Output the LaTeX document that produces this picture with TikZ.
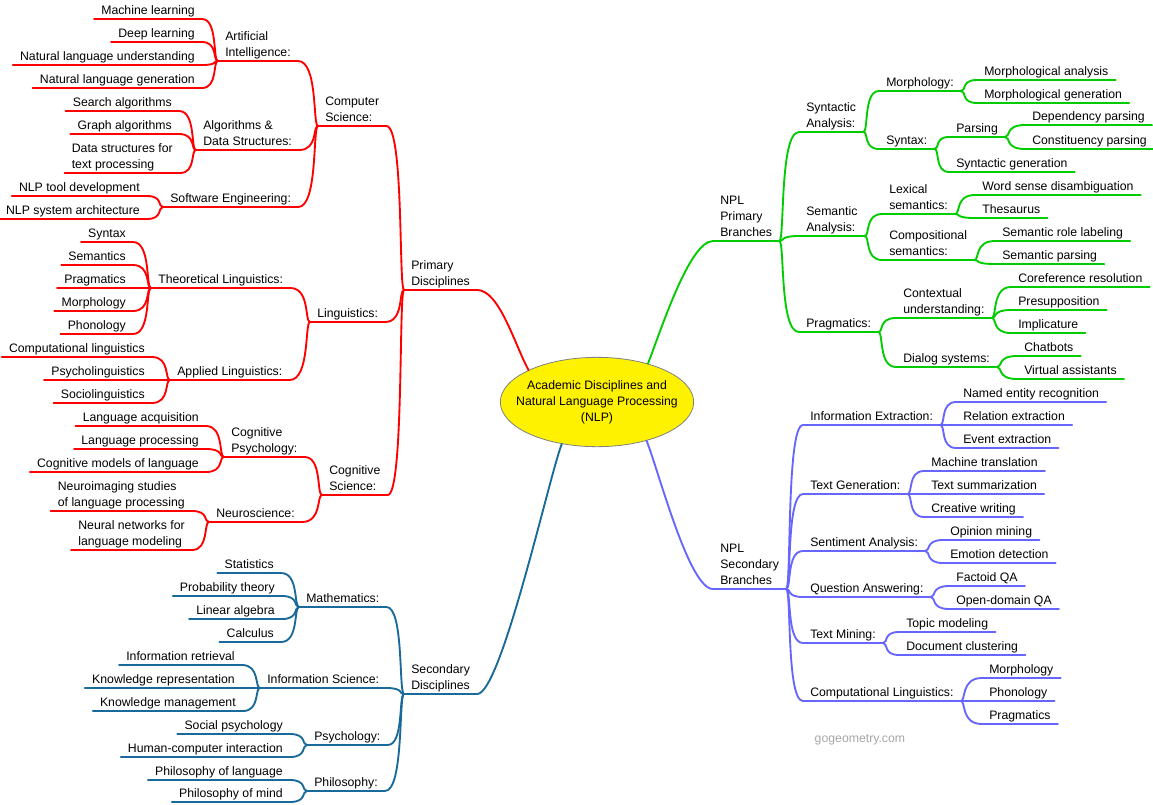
\documentclass[tikz,border=0pt]{standalone}
\usepackage{fontspec}
\setmainfont{Liberation Sans}
\usetikzlibrary{shapes.geometric}
\definecolor{brred}{RGB}{255,0,0}
\definecolor{brgreen}{RGB}{0,204,0}
\definecolor{brteal}{RGB}{25,105,155}
\definecolor{brblue}{RGB}{102,102,255}
\tikzset{
  lbl/.style={inner xsep=5.25pt, inner ysep=0.3pt, align=left, font=\fontsize{9.2pt}{12pt}\selectfont, execute at end node={\rule[-2.6pt]{0pt}{1pt}}},
  lnd/.style={lbl, anchor=south east},
  rnd/.style={lbl, anchor=south west},
  root/.style={ellipse, draw=gray, fill=yellow, line width=0.6pt, minimum width=145pt, minimum height=67pt, inner xsep=-11pt, inner ysep=0pt, align=center, font=\fontsize{9.2pt}{12pt}\selectfont},
  lbr/.style={to path={.. controls (\tikztotarget |- \tikztostart) and ([xshift=-4pt]\tikztotarget) .. (\tikztotarget)}},
  rbr/.style={to path={.. controls ([xshift=4pt]\tikztostart) and (\tikztostart |- \tikztotarget) .. (\tikztotarget)}},
  br/.style={line width=1.4pt, line cap=round}
}
\begin{document}
\begin{tikzpicture}[x=0.75pt, y=-0.75pt]
\useasboundingbox (0,0) rectangle (1153,804);
\node[root] (root) at (597,402) {Academic Disciplines and\\Natural Language Processing\\(NLP)};

\node[lnd] (ml) at (202,19) {Machine learning};
\node[lnd] (dl) at (202,42) {Deep learning};
\node[lnd] (nlu) at (202,65) {Natural language understanding};
\node[lnd] (nlg) at (202,88) {Natural language generation};
\node[rnd] (ai) at (218,61) {Artificial\\Intelligence:};
\node[lnd] (sa) at (179,111) {Search algorithms};
\node[lnd] (ga) at (179,134) {Graph algorithms};
\node[lnd] (ds) at (180,173) {Data structures for\\text processing};
\node[rnd] (ads) at (196,150) {Algorithms \&\\Data Structures:};
\node[lnd] (ntd) at (147,196) {NLP tool development};
\node[lnd] (nsa) at (147,219) {NLP system architecture};
\node[rnd] (se) at (163,207) {Software Engineering:};
\node[rnd] (cs) at (318,126) {Computer\\Science:};
\node[lnd] (syn) at (133,242) {Syntax};
\node[lnd] (sem) at (133,265) {Semantics};
\node[lnd] (prg) at (133,288) {Pragmatics};
\node[lnd] (mor) at (133,311) {Morphology};
\node[lnd] (pho) at (133,334) {Phonology};
\node[rnd] (tl) at (151,288) {Theoretical Linguistics:};
\node[lnd] (cl) at (152,357) {Computational linguistics};
\node[lnd] (psl) at (152,380) {Psycholinguistics};
\node[lnd] (scl) at (152,403) {Sociolinguistics};
\node[rnd] (al) at (170,380) {Applied Linguistics:};
\node[rnd] (lin) at (310,322) {Linguistics:};
\node[lnd] (la) at (206,426) {Language acquisition};
\node[lnd] (lp) at (206,449) {Language processing};
\node[lnd] (cm) at (206,472) {Cognitive models of language};
\node[rnd] (cp) at (224,457) {Cognitive\\Psychology:};
\node[lnd] (nis) at (192,511) {Neuroimaging studies\\of language processing};
\node[lnd] (nn) at (192,550) {Neural networks for\\language modeling};
\node[rnd] (neu) at (209,522) {Neuroscience:};
\node[rnd] (cgs) at (322,495) {Cognitive\\Science:};
\node[rnd] (P1) at (404,290) {Primary\\Disciplines};

\node[lnd] (sta) at (281,573) {Statistics};
\node[lnd] (pt) at (282,596) {Probability theory};
\node[lnd] (lal) at (282,619) {Linear algebra};
\node[lnd] (cal) at (281,642) {Calculus};
\node[rnd] (mat) at (299,607) {Mathematics:};
\node[lnd] (ir) at (242,665) {Information retrieval};
\node[lnd] (kr) at (242,688) {Knowledge representation};
\node[lnd] (km) at (243,711) {Knowledge management};
\node[rnd] (is) at (260,688) {Information Science:};
\node[lnd] (sp) at (290,734) {Social psychology};
\node[lnd] (hci) at (290,757) {Human-computer interaction};
\node[rnd] (psy) at (307,745) {Psychology:};
\node[lnd] (pl) at (290,780) {Philosophy of language};
\node[lnd] (pm) at (290,802) {Philosophy of mind};
\node[rnd] (phi) at (307,791) {Philosophy:};
\node[rnd] (S1) at (404,694) {Secondary\\Disciplines};

\node[rnd] (N1) at (713,241) {NPL\\Primary\\Branches};
\node[rnd] (sya) at (799,132) {Syntactic\\Analysis:};
\node[rnd] (mph) at (879,91) {Morphology:};
\node[rnd] (mpa) at (977,80) {Morphological analysis};
\node[rnd] (mpg) at (977,103) {Morphological generation};
\node[rnd] (stx) at (879,149) {Syntax:};
\node[rnd] (prs) at (949,137) {Parsing};
\node[rnd] (dep) at (1025,125) {Dependency parsing};
\node[rnd] (con) at (1025,149) {Constituency parsing};
\node[rnd] (sgn) at (949,172) {Syntactic generation};
\node[rnd] (sma) at (799,236) {Semantic\\Analysis:};
\node[rnd] (lex) at (882,214) {Lexical\\semantics:};
\node[rnd] (wsd) at (975,195) {Word sense disambiguation};
\node[rnd] (the) at (975,218) {Thesaurus};
\node[rnd] (cmp) at (882,260) {Compositional\\semantics:};
\node[rnd] (srl) at (995,241) {Semantic role labeling};
\node[rnd] (spa) at (995,264) {Semantic parsing};
\node[rnd] (pra) at (799,332) {Pragmatics:};
\node[rnd] (ctx) at (896,318) {Contextual\\understanding:};
\node[rnd] (cor) at (1011,287) {Coreference resolution};
\node[rnd] (pre) at (1011,310) {Presupposition};
\node[rnd] (imp) at (1011,333) {Implicature};
\node[rnd] (dia) at (896,367) {Dialog systems:};
\node[rnd] (cha) at (1017,356) {Chatbots};
\node[rnd] (va) at (1017,379) {Virtual assistants};

\node[rnd] (N2) at (713,589) {NPL\\Secondary\\Branches};
\node[rnd] (ie) at (803,425) {Information Extraction:};
\node[rnd] (ner) at (956,402) {Named entity recognition};
\node[rnd] (rel) at (956,425) {Relation extraction};
\node[rnd] (eve) at (956,448) {Event extraction};
\node[rnd] (tg) at (803,494) {Text Generation:};
\node[rnd] (mt) at (924,471) {Machine translation};
\node[rnd] (ts) at (924,494) {Text summarization};
\node[rnd] (cw) at (924,517) {Creative writing};
\node[rnd] (sen) at (803,551) {Sentiment Analysis:};
\node[rnd] (om) at (943,540) {Opinion mining};
\node[rnd] (ed) at (943,563) {Emotion detection};
\node[rnd] (qa) at (803,597) {Question Answering:};
\node[rnd] (fqa) at (949,586) {Factoid QA};
\node[rnd] (oqa) at (949,609) {Open-domain QA};
\node[rnd] (tm) at (803,643) {Text Mining:};
\node[rnd] (tmo) at (899,632) {Topic modeling};
\node[rnd] (dc) at (899,655) {Document clustering};
\node[rnd] (cl2) at (803,701) {Computational Linguistics:};
\node[rnd] (cmo) at (982,678) {Morphology};
\node[rnd] (cph) at (982,701) {Phonology};
\node[rnd] (cpr) at (982,724) {Pragmatics};

\node[anchor=west, text=gray!70, font=\fontsize{9.2pt}{12pt}\selectfont] (wm) at (810,740) {gogeometry.com};

\begin{scope}[br, brred]
\draw (ml.south west) -- (ml.south east) to[lbr] (ai.south west);
\draw (dl.south west) -- (dl.south east) to[lbr] (ai.south west);
\draw (nlu.south west) -- (nlu.south east) to[lbr] (ai.south west);
\draw (nlg.south west) -- (nlg.south east) to[lbr] (ai.south west);
\draw (sa.south west) -- (sa.south east) to[lbr] (ads.south west);
\draw (ga.south west) -- (ga.south east) to[lbr] (ads.south west);
\draw (ds.south west) -- (ds.south east) to[lbr] (ads.south west);
\draw (ntd.south west) -- (ntd.south east) to[lbr] (se.south west);
\draw (nsa.south west) -- (nsa.south east) to[lbr] (se.south west);
\draw (ai.south west) -- (ai.south east) to[lbr] (cs.south west);
\draw (ads.south west) -- (ads.south east) to[lbr] (cs.south west);
\draw (se.south west) -- (se.south east) to[lbr] (cs.south west);
\draw (syn.south west) -- (syn.south east) to[lbr] (tl.south west);
\draw (sem.south west) -- (sem.south east) to[lbr] (tl.south west);
\draw (prg.south west) -- (prg.south east) to[lbr] (tl.south west);
\draw (mor.south west) -- (mor.south east) to[lbr] (tl.south west);
\draw (pho.south west) -- (pho.south east) to[lbr] (tl.south west);
\draw (cl.south west) -- (cl.south east) to[lbr] (al.south west);
\draw (psl.south west) -- (psl.south east) to[lbr] (al.south west);
\draw (scl.south west) -- (scl.south east) to[lbr] (al.south west);
\draw (tl.south west) -- (tl.south east) to[lbr] (lin.south west);
\draw (al.south west) -- (al.south east) to[lbr] (lin.south west);
\draw (la.south west) -- (la.south east) to[lbr] (cp.south west);
\draw (lp.south west) -- (lp.south east) to[lbr] (cp.south west);
\draw (cm.south west) -- (cm.south east) to[lbr] (cp.south west);
\draw (nis.south west) -- (nis.south east) to[lbr] (neu.south west);
\draw (nn.south west) -- (nn.south east) to[lbr] (neu.south west);
\draw (cp.south west) -- (cp.south east) to[lbr] (cgs.south west);
\draw (neu.south west) -- (neu.south east) to[lbr] (cgs.south west);
\draw (cs.south west) -- (cs.south east) to[lbr] (P1.south west);
\draw (lin.south west) -- (lin.south east) to[lbr] (P1.south west);
\draw (cgs.south west) -- (cgs.south east) to[lbr] (P1.south west);
\draw (P1.south west) -- (P1.south east) .. controls +(22,0) and +(-14,-26) .. (root.155);
\end{scope}

\begin{scope}[br, brteal]
\draw (sta.south west) -- (sta.south east) to[lbr] (mat.south west);
\draw (pt.south west) -- (pt.south east) to[lbr] (mat.south west);
\draw (lal.south west) -- (lal.south east) to[lbr] (mat.south west);
\draw (cal.south west) -- (cal.south east) to[lbr] (mat.south west);
\draw (ir.south west) -- (ir.south east) to[lbr] (is.south west);
\draw (kr.south west) -- (kr.south east) to[lbr] (is.south west);
\draw (km.south west) -- (km.south east) to[lbr] (is.south west);
\draw (sp.south west) -- (sp.south east) to[lbr] (psy.south west);
\draw (hci.south west) -- (hci.south east) to[lbr] (psy.south west);
\draw (pl.south west) -- (pl.south east) to[lbr] (phi.south west);
\draw (pm.south west) -- (pm.south east) to[lbr] (phi.south west);
\draw (mat.south west) -- (mat.south east) to[lbr] (S1.south west);
\draw (is.south west) -- (is.south east) to[lbr] (S1.south west);
\draw (psy.south west) -- (psy.south east) to[lbr] (S1.south west);
\draw (phi.south west) -- (phi.south east) to[lbr] (S1.south west);
\draw (S1.south west) -- (S1.south east) .. controls +(24,0) and +(-12,30) .. (root.230);
\end{scope}

\begin{scope}[br, brgreen]
\draw (root.37) .. controls +(12,-30) and +(-24,0) .. (N1.south west) -- (N1.south east);
\draw (N1.south east) to[rbr] (sya.south west) -- (sya.south east);
\draw (N1.south east) to[rbr] (sma.south west) -- (sma.south east);
\draw (N1.south east) to[rbr] (pra.south west) -- (pra.south east);
\draw (sya.south east) to[rbr] (mph.south west) -- (mph.south east);
\draw (sya.south east) to[rbr] (stx.south west) -- (stx.south east);
\draw (mph.south east) to[rbr] (mpa.south west) -- (mpa.south east);
\draw (mph.south east) to[rbr] (mpg.south west) -- (mpg.south east);
\draw (stx.south east) to[rbr] (prs.south west) -- (prs.south east);
\draw (stx.south east) to[rbr] (sgn.south west) -- (sgn.south east);
\draw (prs.south east) to[rbr] (dep.south west) -- (dep.south east);
\draw (prs.south east) to[rbr] (con.south west) -- (con.south east);
\draw (sma.south east) to[rbr] (lex.south west) -- (lex.south east);
\draw (sma.south east) to[rbr] (cmp.south west) -- (cmp.south east);
\draw (lex.south east) to[rbr] (wsd.south west) -- (wsd.south east);
\draw (lex.south east) to[rbr] (the.south west) -- (the.south east);
\draw (cmp.south east) to[rbr] (srl.south west) -- (srl.south east);
\draw (cmp.south east) to[rbr] (spa.south west) -- (spa.south east);
\draw (pra.south east) to[rbr] (ctx.south west) -- (ctx.south east);
\draw (pra.south east) to[rbr] (dia.south west) -- (dia.south east);
\draw (ctx.south east) to[rbr] (cor.south west) -- (cor.south east);
\draw (ctx.south east) to[rbr] (pre.south west) -- (pre.south east);
\draw (ctx.south east) to[rbr] (imp.south west) -- (imp.south east);
\draw (dia.south east) to[rbr] (cha.south west) -- (cha.south east);
\draw (dia.south east) to[rbr] (va.south west) -- (va.south east);
\end{scope}

\begin{scope}[br, brblue]
\draw (root.322) .. controls +(12,30) and +(-24,0) .. (N2.south west) -- (N2.south east);
\draw (N2.south east) to[rbr] (ie.south west) -- (ie.south east);
\draw (N2.south east) to[rbr] (tg.south west) -- (tg.south east);
\draw (N2.south east) to[rbr] (sen.south west) -- (sen.south east);
\draw (N2.south east) to[rbr] (qa.south west) -- (qa.south east);
\draw (N2.south east) to[rbr] (tm.south west) -- (tm.south east);
\draw (N2.south east) to[rbr] (cl2.south west) -- (cl2.south east);
\draw (ie.south east) to[rbr] (ner.south west) -- (ner.south east);
\draw (ie.south east) to[rbr] (rel.south west) -- (rel.south east);
\draw (ie.south east) to[rbr] (eve.south west) -- (eve.south east);
\draw (tg.south east) to[rbr] (mt.south west) -- (mt.south east);
\draw (tg.south east) to[rbr] (ts.south west) -- (ts.south east);
\draw (tg.south east) to[rbr] (cw.south west) -- (cw.south east);
\draw (sen.south east) to[rbr] (om.south west) -- (om.south east);
\draw (sen.south east) to[rbr] (ed.south west) -- (ed.south east);
\draw (qa.south east) to[rbr] (fqa.south west) -- (fqa.south east);
\draw (qa.south east) to[rbr] (oqa.south west) -- (oqa.south east);
\draw (tm.south east) to[rbr] (tmo.south west) -- (tmo.south east);
\draw (tm.south east) to[rbr] (dc.south west) -- (dc.south east);
\draw (cl2.south east) to[rbr] (cmo.south west) -- (cmo.south east);
\draw (cl2.south east) to[rbr] (cph.south west) -- (cph.south east);
\draw (cl2.south east) to[rbr] (cpr.south west) -- (cpr.south east);
\end{scope}
\end{tikzpicture}
\end{document}
